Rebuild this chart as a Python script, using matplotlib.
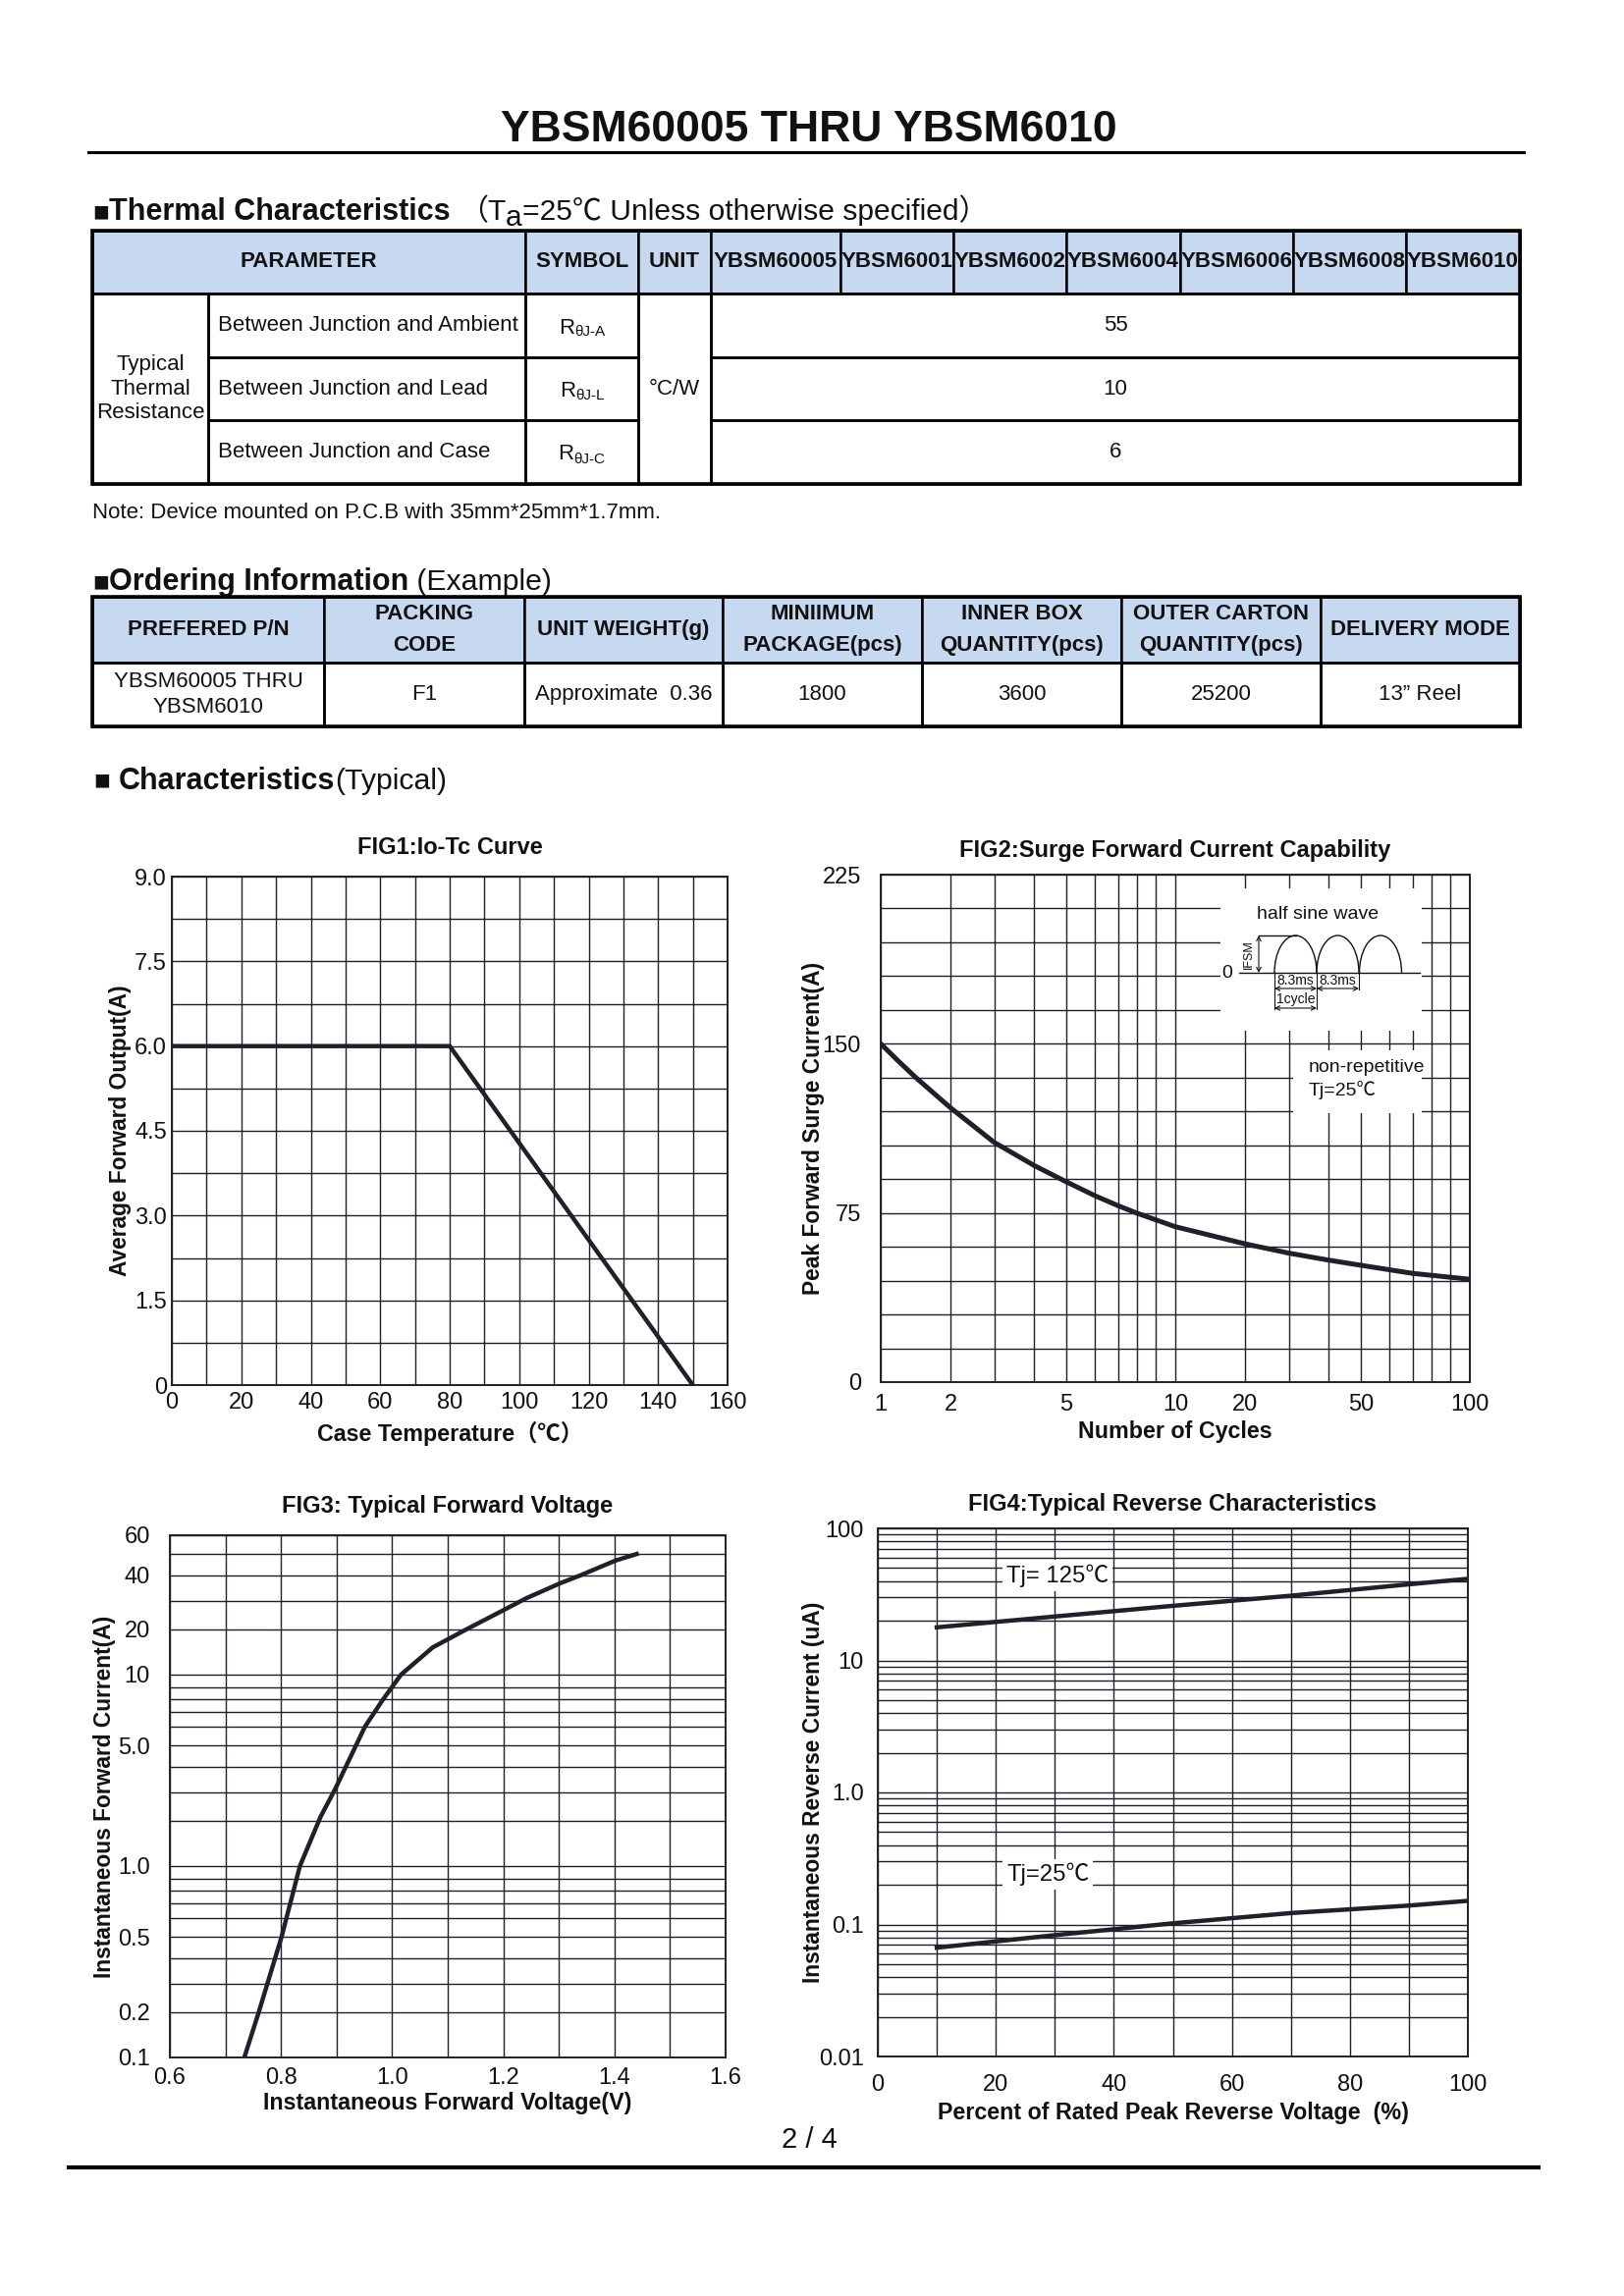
import matplotlib
matplotlib.use("Agg")
import matplotlib.pyplot as plt
import numpy as np
from matplotlib.patches import Rectangle, Arc
from matplotlib.ticker import FixedLocator, FixedFormatter

# ---------------- data ----------------
thermal_models = ["YBSM60005", "YBSM6001", "YBSM6002", "YBSM6004",
                  "YBSM6006", "YBSM6008", "YBSM6010"]
thermal_params = ["Between Junction and Ambient", "Between Junction and Lead",
                  "Between Junction and Case"]
thermal_symbols = ["θJ-A", "θJ-L", "θJ-C"]
thermal_values = ["55", "10", "6"]

order_headers = ["PREFERED P/N", "PACKING\nCODE", "UNIT WEIGHT(g)",
                 "MINIIMUM\nPACKAGE(pcs)", "INNER BOX\nQUANTITY(pcs)",
                 "OUTER CARTON\nQUANTITY(pcs)", "DELIVERY MODE"]
order_values = ["YBSM60005 THRU\nYBSM6010", "F1", "Approximate  0.36",
                "1800", "3600", "25200", "13\u201d Reel"]

# FIG1 Io-Tc
fig1_temp = [0, 80, 150]
fig1_current = [6.0, 6.0, 0.0]

# FIG2 surge current vs cycles
fig2_cycles = [1, 1.25, 1.5, 2, 3, 4, 5, 6, 7, 8, 9, 10, 20, 30, 40, 50, 70, 100]
fig2_current = [150, 142.4, 135.1, 121.6, 106.3, 96.1, 88.8, 82.6, 78.2, 74.9,
                72.0, 68.9, 61.3, 57.2, 54.1, 51.8, 48.2, 45.6]

# FIG3 forward voltage
fig3_voltage = [0.734, 0.760, 0.801, 0.834, 0.871, 0.898, 0.951, 0.982, 1.016,
                1.073, 1.134, 1.199, 1.241, 1.302, 1.340, 1.402, 1.440]
fig3_current = [0.1, 0.2, 0.5, 1.0, 2.13, 3.15, 6.0, 7.9, 10, 16, 20, 26.6,
                31, 36.8, 40, 46.9, 50]

# FIG4 reverse characteristics
fig4_percent = [10, 30, 50, 70, 90, 100]
fig4_tj125 = [17.8, 21.5, 25.9, 30.9, 37.7, 41.5]
fig4_tj25 = [0.0667, 0.083, 0.102, 0.122, 0.139, 0.151]

# ---------------- setup ----------------
plt.rcParams['font.family'] = ['Liberation Sans', 'Noto Sans CJK SC', 'DejaVu Sans']
plt.rcParams['mathtext.default'] = 'regular'

W, H = 1654, 2339
fig = plt.figure(figsize=(W / 200, H / 200), dpi=200)
page = fig.add_axes([0, 0, 1, 1])
page.set_xlim(0, W)
page.set_ylim(H, 0)
page.axis('off')
renderer = fig.canvas.get_renderer()

BLUE = '#c6d9f1'
INK = '#111111'
GRID = '#20202c'
LINE = '#20202a'


def text_run(x, y, pieces):
    for s, kw in pieces:
        kw = dict(kw)
        dy = kw.pop('dy', 0)
        t = page.text(x, y + dy, s, ha='left', va='baseline', color=INK, **kw)
        x += t.get_window_extent(renderer).width


def sub_text(cx, cy, base, sub, size=8, subsize=5.5):
    t1 = page.text(0, cy + 8, base, fontsize=size, va='baseline', color=INK, zorder=3)
    t2 = page.text(0, cy + 11, sub, fontsize=subsize, va='baseline', color=INK, zorder=3)
    w1 = t1.get_window_extent(renderer).width
    w2 = t2.get_window_extent(renderer).width
    x0 = cx - (w1 + w2) / 2
    t1.set_x(x0)
    t2.set_x(x0 + w1)


def cell(x0, x1, y0, y1, text='', fill=None, lw=0.9, align='center', **kw):
    page.add_patch(Rectangle((x0, y0), x1 - x0, y1 - y0,
                             facecolor=fill if fill else 'none',
                             edgecolor='black', linewidth=lw, zorder=2))
    if text:
        if align == 'left':
            page.text(x0 + 10, (y0 + y1) / 2, text, ha='left', va='center',
                      color=INK, zorder=3, **kw)
        else:
            page.text((x0 + x1) / 2, (y0 + y1) / 2, text, ha='center',
                      va='center', color=INK, zorder=3, **kw)


# ---------------- page header ----------------
page.text(824, 133, "YBSM60005 THRU YBSM6010", ha='center', va='center',
          fontsize=16, fontweight='bold', color=INK)
page.plot([90, 1552], [155, 155], color='black', lw=1.1)

text_run(94, 224, [("■", dict(fontsize=10)),
                   ("Thermal Characteristics ", dict(fontsize=11, fontweight='bold')),
                   ("（T", dict(fontsize=10.8)),
                   ("a", dict(fontsize=10.8, dy=6)),
                   ("=25℃ Unless otherwise specified）", dict(fontsize=10.8))])

# thermal table
TX = [94, 212, 535, 650, 724, 856, 971, 1086, 1202, 1317, 1432, 1548]
TY = [235, 299, 364, 428, 493]
hb = dict(fontsize=8, fontweight='bold')
cell(TX[0], TX[2], TY[0], TY[1], "PARAMETER", fill=BLUE, **hb)
cell(TX[2], TX[3], TY[0], TY[1], "SYMBOL", fill=BLUE, **hb)
cell(TX[3], TX[4], TY[0], TY[1], "UNIT", fill=BLUE, **hb)
for i, m in enumerate(thermal_models):
    cell(TX[4 + i], TX[5 + i], TY[0], TY[1], m, fill=BLUE, **hb)
cell(TX[0], TX[1], TY[1], TY[4], "Typical\nThermal\nResistance", fontsize=8,
     linespacing=1.25)
for i in range(3):
    cell(TX[1], TX[2], TY[1 + i], TY[2 + i], thermal_params[i], fontsize=8,
         align='left')
    cell(TX[2], TX[3], TY[1 + i], TY[2 + i])
    sub_text((TX[2] + TX[3]) / 2, (TY[1 + i] + TY[2 + i]) / 2, "R",
             thermal_symbols[i])
    cell(TX[4], TX[11], TY[1 + i], TY[2 + i], thermal_values[i], fontsize=8)
cell(TX[3], TX[4], TY[1], TY[4], "°C/W", fontsize=8)
page.add_patch(Rectangle((TX[0], TY[0]), TX[-1] - TX[0], TY[-1] - TY[0],
                         facecolor='none', edgecolor='black', lw=1.3, zorder=4))

page.text(94, 522, "Note: Device mounted on P.C.B with 35mm*25mm*1.7mm.",
          ha='left', va='center', fontsize=8, color=INK)

text_run(94, 601, [("■", dict(fontsize=10)),
                   ("Ordering Information", dict(fontsize=11, fontweight='bold')),
                   (" (Example)", dict(fontsize=10.9))])

OX = [94, 330, 534, 736, 939, 1142, 1345, 1548]
OY = [608, 675, 740]
for i in range(7):
    cell(OX[i], OX[i + 1], OY[0], OY[1], order_headers[i], fill=BLUE,
         linespacing=1.65, **hb)
    cell(OX[i], OX[i + 1], OY[1], OY[2], order_values[i], fontsize=8,
         linespacing=1.32)
page.add_patch(Rectangle((OX[0], OY[0]), OX[-1] - OX[0], OY[-1] - OY[0],
                         facecolor='none', edgecolor='black', lw=1.3, zorder=4))

text_run(96, 804, [("■ ", dict(fontsize=10)),
                   ("Characteristics", dict(fontsize=11, fontweight='bold')),
                   ("(Typical)", dict(fontsize=10.9))])

page.text(824, 2180, "2 / 4", ha='center', va='center', fontsize=10.5, color=INK)
page.plot([70, 1567], [2208, 2208], color='black', lw=1.5)


# ---------------- chart helpers ----------------
# grid paper used by the datasheet: position of 1..10 inside one decade
DECADE_POS = [0, .237, .385, .52, .63, .728, .806, .87, .933, 1.0]
MANT = [1, 2, 3, 4, 5, 6, 7, 8, 9, 10]


def paper_fwd(v):
    v = np.clip(np.asarray(v, dtype=float), 1e-12, None)
    d = np.floor(np.log10(v) + 1e-12)
    return d + np.interp(v / 10.0 ** d, MANT, DECADE_POS)


def paper_inv(y):
    y = np.asarray(y, dtype=float)
    d = np.floor(y)
    return np.interp(y - d, DECADE_POS, MANT) * 10.0 ** d


def make_axes(box):
    x0, y0, x1, y1 = box
    ax = fig.add_axes([x0 / W, 1 - y1 / H, (x1 - x0) / W, (y1 - y0) / H])
    for s in ax.spines.values():
        s.set_color(GRID)
        s.set_linewidth(0.7)
    ax.tick_params(which='both', length=0, labelsize=8.5, labelcolor=INK)
    ax.set_axisbelow(True)
    return ax


def finish(ax, box, title, title_y, xlabel, xlabel_y, ylabel, ylabel_x,
           xpad, ypad):
    x0, y0, x1, y1 = box
    ax.grid(which='both', color=GRID, linewidth=0.5)
    ax.tick_params(axis='x', pad=xpad * 0.36)
    ax.tick_params(axis='y', pad=ypad * 0.36)
    ax.text(0.5, (y1 - title_y) / (y1 - y0), title, transform=ax.transAxes,
            ha='center', va='center', fontsize=8.5, fontweight='bold', color=INK)
    ax.set_xlabel(xlabel, fontsize=8.4, fontweight='bold', va='center', color=INK)
    ax.xaxis.set_label_coords(0.5, (y1 - xlabel_y) / (y1 - y0))
    ax.set_ylabel(ylabel, fontsize=8.2, fontweight='bold', va='center', color=INK)
    ax.yaxis.set_label_coords((ylabel_x - x0) / (x1 - x0), 0.5)


def px_inset(ax, box, rect):
    x0, y0, x1, y1 = box
    rx0, ry0, rx1, ry1 = rect
    ins = ax.inset_axes([(rx0 - x0) / (x1 - x0), (y1 - ry1) / (y1 - y0),
                         (rx1 - rx0) / (x1 - x0), (ry1 - ry0) / (y1 - y0)])
    ins.set_xlim(rx0, rx1)
    ins.set_ylim(ry1, ry0)
    ins.set_xticks([])
    ins.set_yticks([])
    for s in ins.spines.values():
        s.set_visible(False)
    ins.set_facecolor('white')
    return ins


# ---------------- FIG1 ----------------
B1 = (175, 893, 741, 1411)
ax1 = make_axes(B1)
ax1.plot(fig1_temp, fig1_current, color=LINE, lw=1.6)
ax1.set_xlim(0, 160)
ax1.set_ylim(0, 9)
ax1.set_xticks(np.arange(0, 161, 20))
ax1.set_xticks(np.arange(0, 161, 10), minor=True)
ax1.set_yticks([0, 1.5, 3, 4.5, 6, 7.5, 9])
ax1.set_yticklabels(["0", "1.5", "3.0", "4.5", "6.0", "7.5", "9.0"])
ax1.set_yticks(np.arange(0, 9.01, 0.75), minor=True)
finish(ax1, B1, "FIG1:Io-Tc Curve", 863, "Case Temperature（℃）", 1460,
       "Average Forward Output(A)", 123, 7, 5)

# ---------------- FIG2 ----------------
B2 = (897, 891, 1497, 1408)
ax2 = make_axes(B2)
ax2.set_xscale('function', functions=(paper_fwd, paper_inv))
ax2.plot(fig2_cycles, fig2_current, color=LINE, lw=1.8)
ax2.set_xlim(1, 100)
ax2.set_ylim(0, 225)
ax2.xaxis.set_major_locator(FixedLocator([1, 2, 5, 10, 20, 50, 100]))
ax2.xaxis.set_major_formatter(FixedFormatter(["1", "2", "5", "10", "20", "50", "100"]))
ax2.xaxis.set_minor_locator(FixedLocator([3, 4, 6, 7, 8, 9, 30, 40, 60, 70, 80, 90]))
ax2.set_yticks([0, 75, 150, 225])
ax2.set_yticks(np.arange(0, 226, 15), minor=True)
finish(ax2, B2, "FIG2:Surge Forward Current Capability", 866, "Number of Cycles",
       1459, "Peak Forward Surge Current(A)", 829, 12, 20)

wave = px_inset(ax2, B2, (1243, 905, 1448, 1050))
wave.text(1342, 932, "half sine wave", ha='center', va='center', fontsize=7, color=INK)
wave.plot([1262, 1446], [991, 991], color=INK, lw=0.5)
wave.text(1250, 992, "0", ha='center', va='center', fontsize=7, color=INK)
for cx in (1319.5, 1362.5, 1406):
    wave.add_patch(Arc((cx, 991), 43, 76, theta1=180, theta2=360, color=INK, lw=0.5))
wave.plot([1282, 1320], [953, 953], color=INK, lw=0.5)
wave.annotate("", xy=(1282, 953), xytext=(1282, 991),
              arrowprops=dict(arrowstyle='<->', lw=0.4, color=INK,
                              shrinkA=0, shrinkB=0, mutation_scale=4))
wave.text(1272, 972, "IFSM", rotation=90, ha='center', va='center', fontsize=4.5, color=INK)
for xv, yb in ((1298, 1028), (1341, 1028), (1384, 1008)):
    wave.plot([xv, xv], [991, yb], color=INK, lw=0.4)
for xa, xb, yy in ((1298, 1341, 1007), (1341, 1384, 1007), (1298, 1341, 1027)):
    wave.annotate("", xy=(xa, yy), xytext=(xb, yy),
                  arrowprops=dict(arrowstyle='<->', lw=0.4, color=INK,
                                  shrinkA=0, shrinkB=0, mutation_scale=4))
wave.text(1319.5, 999, "8.3ms", ha='center', va='center', fontsize=5, color=INK)
wave.text(1362.5, 999, "8.3ms", ha='center', va='center', fontsize=5, color=INK)
wave.text(1319.5, 1018, "1cycle", ha='center', va='center', fontsize=5, color=INK)

note = px_inset(ax2, B2, (1317, 1070, 1448, 1134))
note.text(1333, 1088, "non-repetitive", ha='left', va='center', fontsize=7, color=INK)
note.text(1333, 1111, "Tj=25℃", ha='left', va='center', fontsize=7, color=INK)

# ---------------- FIG3 ----------------
B3 = (173, 1564, 739, 2096)
ax3 = make_axes(B3)
ax3.set_yscale('function', functions=(paper_fwd, paper_inv))
ax3.plot(fig3_voltage, fig3_current, color=LINE, lw=1.6)
ax3.set_xlim(0.6, 1.6)
ax3.set_ylim(0.1, 60)
ax3.set_xticks(np.round(np.arange(0.6, 1.61, 0.2), 1))
ax3.set_xticklabels(["0.6", "0.8", "1.0", "1.2", "1.4", "1.6"])
ax3.set_xticks(np.round(np.arange(0.7, 1.6, 0.2), 1), minor=True)
ax3.yaxis.set_major_locator(FixedLocator([0.1, 0.2, 0.5, 1, 5, 10, 20, 40, 60]))
ax3.yaxis.set_major_formatter(FixedFormatter(["0.1", "0.2", "0.5", "1.0", "5.0",
                                              "10", "20", "40", "60"]))
ax3.yaxis.set_minor_locator(FixedLocator([0.3, 0.4, 0.6, 0.7, 0.8, 0.9, 2, 3, 4,
                                          6, 7, 8, 9, 30, 50]))
finish(ax3, B3, "FIG3: Typical Forward Voltage", 1535,
       "Instantaneous Forward Voltage(V)", 2142,
       "Instantaneous Forward Current(A)", 107, 10, 20)

# ---------------- FIG4 ----------------
B4 = (894, 1557, 1495, 2095)
ax4 = make_axes(B4)
ax4.set_yscale('log')
ax4.plot(fig4_percent, fig4_tj125, color=LINE, lw=1.6)
ax4.plot(fig4_percent, fig4_tj25, color=LINE, lw=1.6)
ax4.set_xlim(0, 100)
ax4.set_ylim(0.01, 100)
ax4.set_xticks(np.arange(0, 101, 20))
ax4.set_xticks(np.arange(0, 101, 10), minor=True)
ax4.yaxis.set_major_locator(FixedLocator([0.01, 0.1, 1, 10, 100]))
ax4.yaxis.set_major_formatter(FixedFormatter(["0.01", "0.1", "1.0", "10", "100"]))
ax4.yaxis.set_minor_locator(FixedLocator([m * 10.0 ** e for e in range(-2, 2)
                                          for m in range(2, 10)]))
ax4.yaxis.set_minor_formatter(FixedFormatter([]))
ax4.text(21.8, 44, "Tj= 125℃", ha='left', va='center', fontsize=8.6, color=INK,
         bbox=dict(facecolor='white', edgecolor='none', pad=1.5))
ax4.text(21.8, 0.24, "Tj=25℃", ha='left', va='center', fontsize=8.6, color=INK,
         bbox=dict(facecolor='white', edgecolor='none', pad=1.5))
finish(ax4, B4, "FIG4:Typical Reverse Characteristics", 1532,
       "Percent of Rated Peak Reverse Voltage  (%)", 2152,
       "Instantaneous Reverse Current (uA)", 829, 18, 14)

fig.savefig("out.png", dpi=200)
